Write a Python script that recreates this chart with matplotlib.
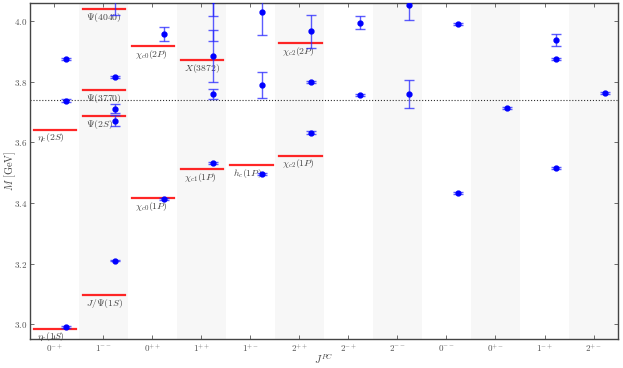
import numpy as np
import matplotlib
matplotlib.use('Agg')
import matplotlib.pyplot as plt

plt.rcParams['mathtext.fontset'] = 'cm'
plt.rcParams['font.family'] = ['DejaVu Serif']

# J^PC channels along the x axis
channels = [r'$0^{-+}$', r'$1^{--}$', r'$0^{++}$', r'$1^{++}$', r'$1^{+-}$', r'$2^{++}$',
            r'$2^{-+}$', r'$2^{--}$', r'$0^{--}$', r'$0^{+-}$', r'$1^{-+}$', r'$2^{+-}$']

# experimental states: channel index, mass, name
exp_chan = [0, 0, 1, 1, 1, 1, 2, 2, 3, 3, 4, 5, 5]
exp_mass = [2.984, 3.639, 3.097, 3.686, 3.773, 4.039, 3.415, 3.918, 3.511, 3.872, 3.525, 3.556, 3.927]
exp_name = [r'$\eta_c(1S)$', r'$\eta_c(2S)$', r'$J/\Psi(1S)$', r'$\Psi(2S)$', r'$\Psi(3770)$',
            r'$\Psi(4040)$', r'$\chi_{c0}(1P)$', r'$\chi_{c0}(2P)$', r'$\chi_{c1}(1P)$',
            r'$X(3872)$', r'$h_c(1P)$', r'$\chi_{c2}(1P)$', r'$\chi_{c2}(2P)$']

# lattice results: channel index, mass, error
lat_chan = [0, 0, 0,
            1, 1, 1, 1, 1,
            2, 2,
            3, 3, 3, 3, 3,
            4, 4, 4,
            5, 5, 5,
            6, 6,
            7, 7,
            8, 8,
            9,
            10, 10, 10,
            11]
lat_mass = [2.990, 3.737, 3.874,
            3.210, 3.816, 3.710, 3.671, 4.090,
            3.414, 3.957,
            3.532, 3.760, 3.884, 4.090, 4.070,
            3.496, 3.788, 4.029,
            3.632, 3.799, 3.966,
            3.756, 3.994,
            3.758, 4.052,
            3.434, 3.989,
            3.712,
            3.515, 3.875, 3.938,
            3.763]
lat_err = [0.003, 0.006, 0.003,
           0.003, 0.003, 0.015, 0.018, 0.070,
           0.003, 0.024,
           0.003, 0.017, 0.086, 0.074, 0.136,
           0.003, 0.042, 0.077,
           0.006, 0.003, 0.054,
           0.003, 0.022,
           0.046, 0.049,
           0.003, 0.003,
           0.003,
           0.003, 0.004, 0.020,
           0.004]

threshold = 3.739  # open charm threshold
yticks = [3.0, 3.2, 3.4, 3.6, 3.8, 4.0]

fig = plt.figure(figsize=(6.23, 3.68), dpi=100)
ax = fig.add_axes([0.048, 0.08, 0.944, 0.912])

for i in range(len(channels)):
    if i % 2 == 1:
        ax.axvspan(i - 0.5, i + 0.5, color='#f7f7f7', lw=0, zorder=0)

for c, m, name in zip(exp_chan, exp_mass, exp_name):
    ax.plot([c - 0.42, c + 0.45], [m, m], color='red', lw=1.6, alpha=0.85, zorder=2)
    ax.text(c - 0.36, m - 0.006, name, fontsize=7, color='#444444', ha='left', va='top', zorder=3)

ax.axhline(threshold, color='#333333', ls=':', lw=0.8, zorder=1)

lat_x = np.array(lat_chan) + 0.23
ax.errorbar(lat_x, lat_mass, yerr=lat_err, fmt='none', ecolor=(0.15, 0.15, 1.0, 0.75),
            elinewidth=1.0, capsize=3.5, capthick=1.0, zorder=4)
ax.plot(lat_x, lat_mass, 'o', color='blue', ms=3.5, mec='blue', zorder=5)

ax.set_xlim(-0.5, 11.5)
ax.set_ylim(2.953, 4.059)
ax.set_xticks(range(len(channels)))
ax.set_xticklabels(channels)
ax.set_yticks(yticks)
ax.set_yticklabels([r'$%.1f$' % v for v in yticks])
ax.tick_params(direction='in', top=True, right=True, length=3, width=0.6, pad=2,
               labelsize=6.5, labelcolor='#555555', color='#555555')
ax.tick_params(axis='x', pad=3)
for s in ax.spines.values():
    s.set_color('#444444')
    s.set_linewidth(1.0)

ax.set_xlabel(r'$J^{PC}$', fontsize=7.5, color='#444444')
ax.set_ylabel(r'$M\ [\mathrm{GeV}]$', fontsize=7.5, color='#444444')
ax.yaxis.set_label_coords(-0.021, 0.5)
ax.xaxis.set_label_coords(0.5, -0.038)

fig.savefig('out.png', dpi=100)
